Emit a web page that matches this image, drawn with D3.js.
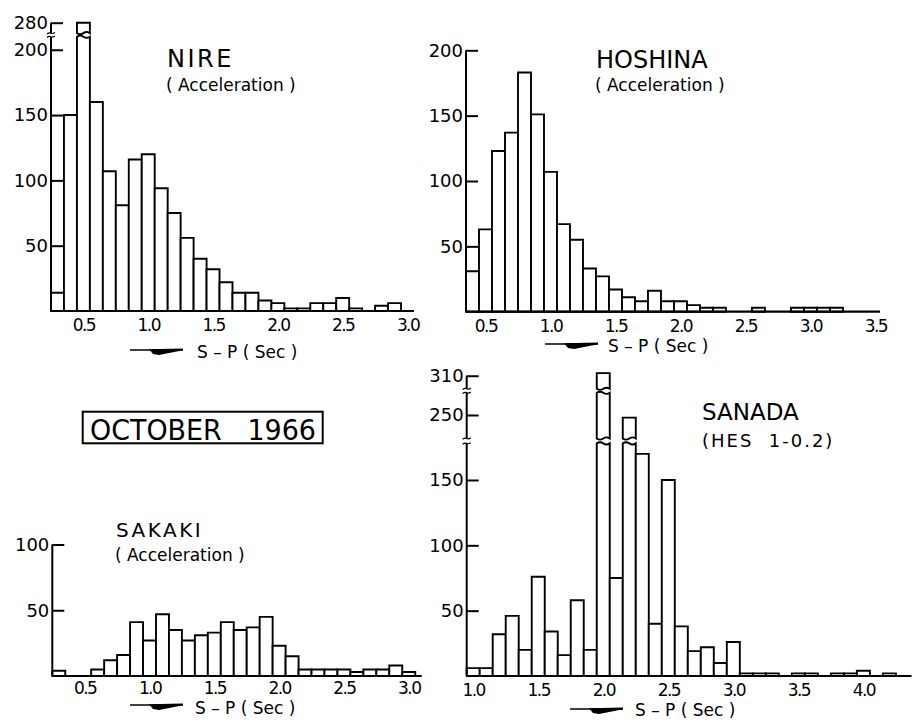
<!DOCTYPE html>
<html><head><meta charset="utf-8">
<script src="https://cdn.jsdelivr.net/npm/d3@7"></script>
<style>
body{margin:0;background:#fff}
svg{display:block}
text{font-family:"DejaVu Sans",sans-serif;fill:#000;white-space:pre}
</style>
</head><body>
<svg id="c" width="912" height="720"></svg>
<script>
// ---------------- data ----------------
const nireBins   = [0.3,0.4,0.5,0.6,0.7,0.8,0.9,1.0,1.1,1.2,1.3,1.4,1.5,1.6,1.7,1.8,1.9,2.0,2.1,2.2,2.3,2.4,2.5,2.6,2.7,2.8,2.9,3.0];
const nireCounts = [14,150,280,160,107,81,116,120,94,75,56,40,32,22,14,14,8,6,2,2,6,6,10,2,0,4,6,0];
const nireXTicks = [0.5,1.0,1.5,2.0,2.5,3.0];
const nireYTicks = [50,100,150,200,280];

const hoshinaBins   = [0.4,0.5,0.6,0.7,0.8,0.9,1.0,1.1,1.2,1.3,1.4,1.5,1.6,1.7,1.8,1.9,2.0,2.1,2.2,2.3,2.4,2.5,2.6,2.7,2.8,2.9,3.0,3.1,3.2];
const hoshinaCounts = [31,63,123,137,183,151,107,67,55,33,27,17,11,8,16,8,8,5,3,3,0,0,3,0,0,3,3,3,3];
const hoshinaXTicks = [0.5,1.0,1.5,2.0,2.5,3.0,3.5];
const hoshinaYTicks = [50,100,150,200];

const sakakiBins   = [0.3,0.4,0.5,0.6,0.7,0.8,0.9,1.0,1.1,1.2,1.3,1.4,1.5,1.6,1.7,1.8,1.9,2.0,2.1,2.2,2.3,2.4,2.5,2.6,2.7,2.8,2.9,3.0];
const sakakiCounts = [4,0,0,5,12,16,41,27,47,35,27,31,33,41,35,37,45,23,15,5,5,5,5,3,5,5,8,3];
const sakakiXTicks = [0.5,1.0,1.5,2.0,2.5,3.0];
const sakakiYTicks = [50,100];

const sanadaBins   = [1.0,1.1,1.2,1.3,1.4,1.5,1.6,1.7,1.8,1.9,2.0,2.1,2.2,2.3,2.4,2.5,2.6,2.7,2.8,2.9,3.0,3.1,3.2,3.3,3.4,3.5,3.6,3.7,3.8,3.9,4.0,4.1,4.2];
const sanadaCounts = [6,6,32,46,20,76,34,16,58,20,312,75,248,170,40,150,38,19,22,10,26,2,2,2,0,2,2,0,2,2,4,0,2];
const sanadaXTicks = [1.0,1.5,2.0,2.5,3.0,3.5,4.0];
const sanadaYTicks = [50,100,150,250,310];

const binWidth = 0.1;

// ---------------- panels ----------------
const panels = [
  {name:"NIRE", sub:"( Acceleration )", bins:nireBins, counts:nireCounts, xTicks:nireXTicks, yTicks:nireYTicks,
   xDom:[0.25,3.05], xRange:[51,414], yDom:[0,210,272,282], yRange:[311,36.7,33.15,20.1],
   segs:[[0,210],[272,280]], pad:8,
   title:{x:167,y:67,size:24,ls:2.5}, subT:{x:166,y:91,size:17,ls:0},
   xl:{x:130,y:350,tx:197,ty:357.5}},
  {name:"HOSHINA", sub:"( Acceleration )", bins:hoshinaBins, counts:hoshinaCounts, xTicks:hoshinaXTicks, yTicks:hoshinaYTicks,
   xDom:[0.35,3.535], xRange:[466,880], yDom:[0,200], yRange:[311.7,50.3],
   segs:[[0,200]], pad:8,
   title:{x:596,y:68,size:24,ls:0}, subT:{x:595,y:91,size:17,ls:0},
   xl:{x:545,y:344,tx:608,ty:351.5}},
  {name:"SAKAKI", sub:"( Acceleration )", bins:sakakiBins, counts:sakakiCounts, xTicks:sakakiXTicks, yTicks:sakakiYTicks,
   xDom:[0.25,3.1], xRange:[52.3,421.7], yDom:[0,100], yRange:[676,544.5],
   segs:[[0,100]], pad:6,
   title:{x:116,y:537,size:20,ls:2.5}, subT:{x:115,y:561,size:17,ls:0},
   xl:{x:130,y:705,tx:195,ty:713.5}},
  {name:"SANADA", sub:"(HES  1-0.2)", bins:sanadaBins, counts:sanadaCounts, xTicks:sanadaXTicks, yTicks:sanadaYTicks,
   xDom:[0.95,4.37], xRange:[466.7,911.5], yDom:[0,178,232,267,300,314], yRange:[676,443.4,438.5,392.8,388.8,370.5],
   segs:[[0,178],[232,267],[300,310]], pad:8,
   title:{x:702,y:420,size:23,ls:0}, subT:{x:702,y:447,size:18,ls:2},
   xl:{x:570,y:709,tx:635,ty:715.5}}
];

const svg = d3.select("#c");
svg.append("rect").attr("width",912).attr("height",720).attr("fill","#fff");

function wave(p, xa, xb, y, amp){
  const m = (xa+xb)/2;
  p.quadraticCurveTo((xa+m)/2, y-amp, m, y);
  p.quadraticCurveTo((m+xb)/2, y+amp, xb, y);
}
function segPath(x0,x1,yb,yt,waveB,waveT){
  const p = d3.path();
  p.moveTo(x0,yb);
  p.lineTo(x0,yt);
  if(waveT) wave(p,x0,x1,yt,2.2); else p.lineTo(x1,yt);
  p.lineTo(x1,yb);
  if(waveB) wave(p,x1,x0,yb,2.2); else p.lineTo(x0,yb);
  p.closePath();
  return p.toString();
}

panels.forEach(P=>{
  const g = svg.append("g");
  const x = d3.scaleLinear().domain(P.xDom).range(P.xRange);
  const y = d3.scaleLinear().domain(P.yDom).range(P.yRange);
  const data = P.bins.map((b,i)=>({b, v:P.counts[i]})).filter(d=>d.v>0);

  // bars (possibly broken into segments)
  const bars = g.append("g").attr("fill","#fff").attr("stroke","#000").attr("stroke-width",1.9).attr("stroke-linejoin","miter");
  data.forEach(d=>{
    const x0 = x(d.b - binWidth/2), x1 = x(d.b + binWidth/2);
    P.segs.forEach((s,i)=>{
      const lo = i===0 ? 0 : s[0];
      if(d.v <= lo) return;
      const last = i===P.segs.length-1;
      const hi = last ? d.v : Math.min(d.v, s[1]);
      const cont = !last && d.v > s[1];
      bars.append("path").attr("d", segPath(x0,x1,y(lo),y(hi),i>0,cont));
    });
  });

  // baseline
  g.append("line").attr("x1",x(P.xDom[0])).attr("x2",x(P.xDom[1]))
    .attr("y1",y(0)).attr("y2",y(0)).attr("stroke","#000").attr("stroke-width",2.2);

  // y axis line in segments with break marks
  const ax = x(P.xDom[0]);
  P.segs.forEach((s,i)=>{
    g.append("line").attr("x1",ax).attr("x2",ax).attr("y1",y(s[0])).attr("y2",y(s[1]))
      .attr("stroke","#000").attr("stroke-width",2);
    if(i>0){
      [y(P.segs[i-1][1]), y(s[0])].forEach(yy=>{
        g.append("path").attr("d",`M${ax-4},${yy+0.8}Q${ax-2},${yy-1} ${ax},${yy}T${ax+4},${yy-0.8}`)
          .attr("fill","none").attr("stroke","#000").attr("stroke-width",1.2);
      });
    }
  });

  // y ticks (pointing inward) with labels
  const yAx = d3.axisLeft(y).tickValues(P.yTicks).tickSize(-12).tickPadding(3).tickFormat(d3.format("d"));
  const ya = g.append("g").attr("transform",`translate(${ax},0)`).call(yAx);
  ya.select(".domain").remove();
  ya.selectAll(".tick line").attr("stroke","#000").attr("stroke-width",2);
  ya.selectAll(".tick text").attr("font-family","DejaVu Sans").attr("font-size",18).attr("fill","#000");

  // x labels (no tick marks)
  const xAx = d3.axisBottom(x).tickValues(P.xTicks).tickSize(0).tickPadding(P.pad).tickFormat(d3.format(".1f"));
  const xa = g.append("g").attr("transform",`translate(0,${y(0)})`).call(xAx);
  xa.select(".domain").remove();
  xa.selectAll(".tick text").attr("font-family","DejaVu Sans").attr("font-size",17).attr("letter-spacing",-1.6).attr("fill","#000");

  // titles
  g.append("text").attr("x",P.title.x).attr("y",P.title.y).attr("font-size",P.title.size)
    .attr("letter-spacing",P.title.ls).text(P.name);
  g.append("text").attr("x",P.subT.x).attr("y",P.subT.y).attr("font-size",P.subT.size)
    .attr("letter-spacing",P.subT.ls).text(P.sub);

  // x axis title with arrow symbol
  const a = P.xl;
  g.append("line").attr("x1",a.x).attr("x2",a.x+53).attr("y1",a.y).attr("y2",a.y)
    .attr("stroke","#000").attr("stroke-width",1.6);
  g.append("path").attr("d",`M${a.x+19},${a.y-0.8}L${a.x+53},${a.y-1.6}L${a.x+53},${a.y+0.2}L${a.x+29},${a.y+5}L${a.x+23},${a.y+4}Z`)
    .attr("fill","#000");
  g.append("text").attr("x",a.tx).attr("y",a.ty).attr("font-size",17).text("S – P ( Sec )");
});

// OCTOBER 1966 box
svg.append("rect").attr("x",82.7).attr("y",411.7).attr("width",240).attr("height",31.6)
  .attr("fill","none").attr("stroke","#000").attr("stroke-width",2);
svg.append("text").attr("x",90).attr("y",440).attr("font-size",29)
  .attr("textLength",226).attr("lengthAdjust","spacingAndGlyphs").text("OCTOBER   1966");
</script>
</body></html>
